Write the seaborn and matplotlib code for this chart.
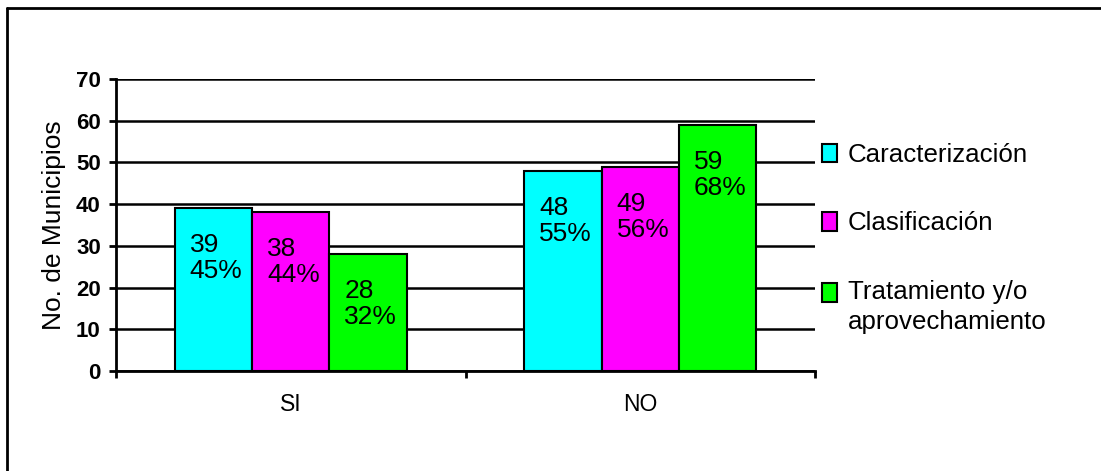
import matplotlib
matplotlib.use("Agg")
import matplotlib.pyplot as plt
from matplotlib import font_manager
from matplotlib.patches import Patch, Rectangle
from matplotlib.legend_handler import HandlerPatch
from matplotlib.lines import Line2D
import seaborn as sns
import pandas as pd

# ---- data ----
categories = ["SI", "NO"]
series = ["Caracterización", "Clasificación", "Tratamiento y/o\naprovechamiento"]
caracterizacion = [39, 48]
clasificacion = [38, 49]
tratamiento = [28, 59]
pct_caracterizacion = ["45%", "55%"]
pct_clasificacion = ["44%", "56%"]
pct_tratamiento = ["32%", "68%"]
colors = ["#00FFFF", "#FF00FF", "#00FF00"]
y_ticks = [0, 10, 20, 30, 40, 50, 60, 70]

values = [caracterizacion, clasificacion, tratamiento]
pcts = [pct_caracterizacion, pct_clasificacion, pct_tratamiento]

df = pd.DataFrame({
    "cat": [c for s in series for c in categories],
    "serie": [s for s in series for _ in categories],
    "val": [v for vals in values for v in vals],
})

sns.set_theme(style="white")
names = {f.name for f in font_manager.fontManager.ttflist}
HAS_NARROW = "Liberation Sans Narrow" in names
NARROW = "Liberation Sans Narrow" if HAS_NARROW else "Liberation Sans"
plt.rcParams["font.family"] = ["Liberation Sans", "DejaVu Sans"]
for k in ["text.color", "axes.labelcolor", "xtick.color", "ytick.color"]:
    plt.rcParams[k] = "black"

LBL_SIZE = 21 if HAS_NARROW else 19
LEG_SIZE = 21 if HAS_NARROW else 18.6
XT_SIZE = 18 if HAS_NARROW else 16.5
plt.rcParams["xtick.labelsize"] = XT_SIZE
plt.rcParams["ytick.labelsize"] = 16

W, H = 1101, 471
fig = plt.figure(figsize=(W / 100, H / 100), dpi=100)
fig.patch.set_facecolor("white")
ax = fig.add_axes([116 / W, 100 / H, 699 / W, 292 / H])

sns.barplot(data=df, x="cat", y="val", hue="serie", order=categories,
            hue_order=series, palette=colors, width=0.664, gap=0,
            edgecolor="black", linewidth=1.5, saturation=1, legend=False,
            ax=ax)

ax.set_xlim(-0.5, 1.5)
ax.set_ylim(0, 70)
ax.set_yticks(y_ticks)
ax.yaxis.grid(True, color="black", linewidth=1.8)
ax.set_axisbelow(True)

ax.set_xticks([0, 1])
ax.set_xticks([-0.5, 0.5, 1.5], minor=True)
ax.tick_params(axis="x", which="major", length=0, pad=16,
               labelsize=XT_SIZE, labelcolor="black")
ax.tick_params(axis="x", which="minor", length=5, width=2, color="black",
               direction="out", bottom=True)
ax.tick_params(axis="y", which="major", length=5, width=2, color="black",
               direction="out", left=True, pad=6, labelsize=16,
               labelcolor="black")
ax.set_xticklabels(categories, fontsize=XT_SIZE, family=NARROW)
ax.set_yticklabels([str(t) for t in y_ticks], fontsize=16,
                   fontweight="bold", family="Liberation Sans")
for t in ax.xaxis.get_majorticklabels():
    t.set_fontsize(XT_SIZE)
ax.set_xlabel("")
ax.set_ylabel("No. de Municipios", fontsize=19, family="Liberation Sans",
              labelpad=7, color="black")

for side in ["top", "right"]:
    ax.spines[side].set_visible(False)
for side in ["left", "bottom"]:
    ax.spines[side].set_color("black")
    ax.spines[side].set_linewidth(2)

# value labels inside bars
for container, vals, ps in zip(ax.containers, values, pcts):
    for bar, v, p in zip(container, vals, ps):
        ax.annotate(f"{v}\n{p}", xy=(bar.get_x(), bar.get_height()),
                    xytext=(15 * 0.72, -25 * 0.72), textcoords="offset points",
                    ha="left", va="top", fontsize=LBL_SIZE, family=NARROW,
                    linespacing=1.1, color="black")

LEG_LINESPACING = 1.33


# legend: handle aligned with first line of multi-line labels
class TopAlignedPatch(HandlerPatch):
    def __init__(self, nlines=1, **kw):
        super().__init__(**kw)
        self.nlines = nlines

    def create_artists(self, legend, orig_handle, xdescent, ydescent, width,
                       height, fontsize, trans):
        shift = 0.5 * LEG_LINESPACING * 0.87 * fontsize * (self.nlines - 1)
        p = Rectangle(xy=(-xdescent, -ydescent + shift), width=width,
                      height=height)
        self.update_prop(p, orig_handle, legend)
        p.set_transform(trans)
        return [p]


handles = [Patch(facecolor=c, edgecolor="black", linewidth=1.5) for c in colors]
handler_map = {h: TopAlignedPatch(nlines=lab.count("\n") + 1)
               for h, lab in zip(handles, series)}
leg = fig.legend(handles, series, loc="upper left", handler_map=handler_map,
                 bbox_to_anchor=(822 / W, 1 - 143 / H), frameon=False,
                 prop={"family": NARROW, "size": LEG_SIZE},
                 handlelength=0.58, handleheight=0.74, handletextpad=0.42,
                 labelspacing=1.72, borderaxespad=0, borderpad=0)
for t in leg.get_texts():
    t.set_linespacing(LEG_LINESPACING)

# outer frame (left and top edges)
fig.add_artist(Line2D([7 / W, 7 / W], [0, 1 - 8 / H], color="black",
                      linewidth=2, transform=fig.transFigure))
fig.add_artist(Line2D([7 / W, 1], [1 - 8 / H, 1 - 8 / H], color="black",
                      linewidth=2, transform=fig.transFigure))

fig.savefig("out.png", dpi=100, facecolor="white")
